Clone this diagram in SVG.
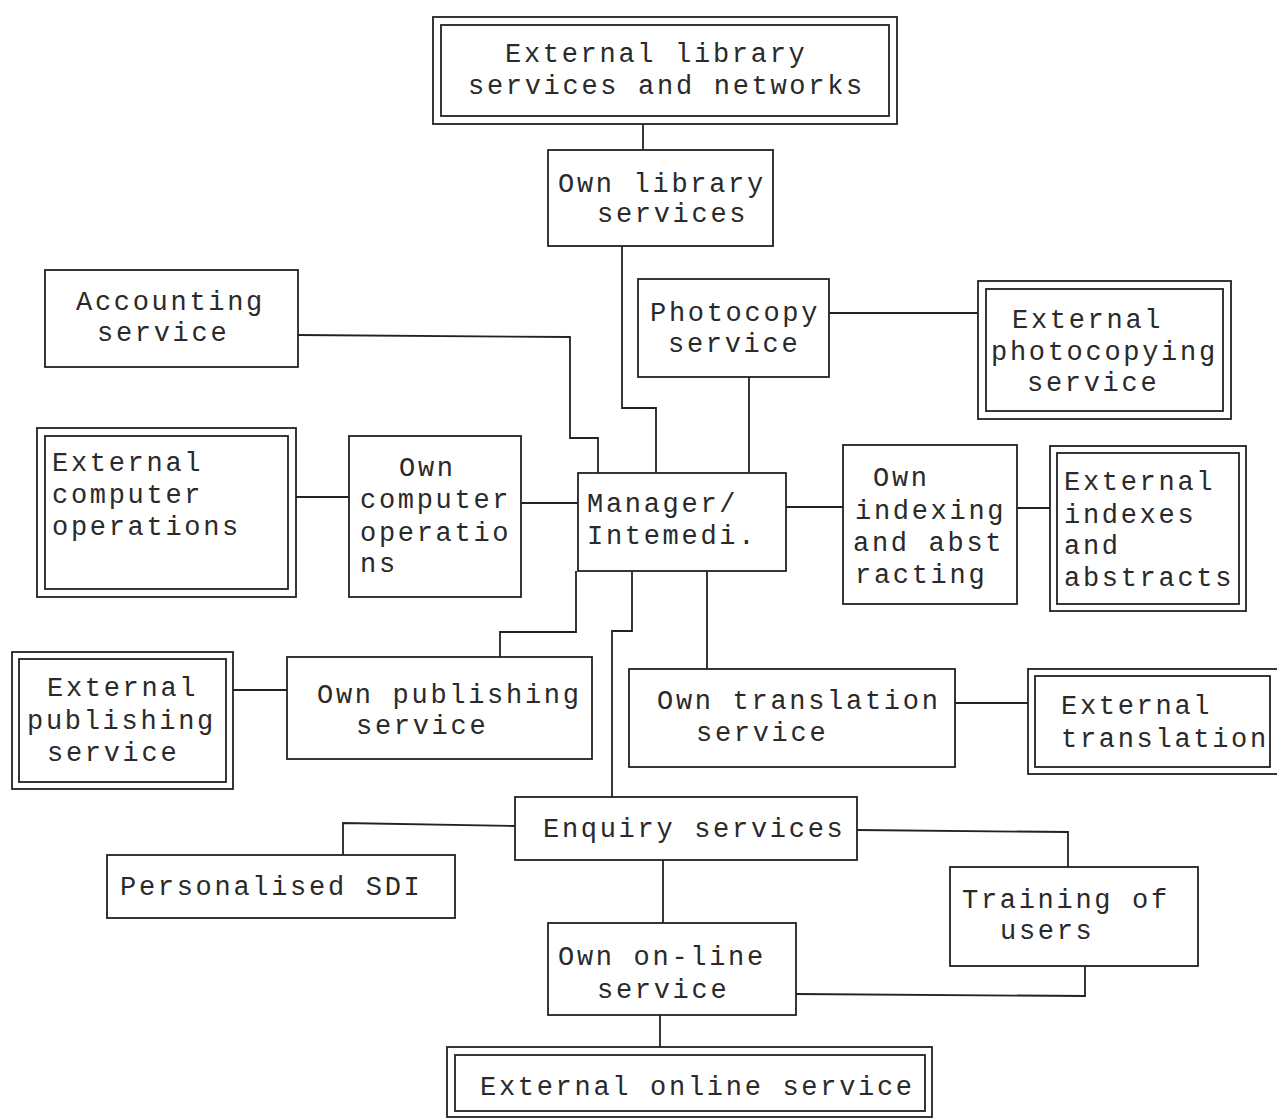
<svg xmlns="http://www.w3.org/2000/svg" width="1277" height="1120" viewBox="0 0 1277 1120">
<style>
.b{fill:#fff;stroke:#222;stroke-width:1.8}
.c{fill:none;stroke:#222;stroke-width:1.8}
text{font-family:"Liberation Mono","Courier New",monospace;font-size:27px;letter-spacing:2.7px;fill:#2a2a2a}
</style>
<rect width="1277" height="1120" fill="#fff"/>
<g id="connectors" class="c">
<path d="M643 124V150"/>
<path d="M622 246V408H656V473"/>
<path d="M749 377V473"/>
<path d="M829 313H978"/>
<path d="M298 335L570 337V438H598V473"/>
<path d="M296 497H349"/>
<path d="M521 503H578"/>
<path d="M786 507H843"/>
<path d="M1017 508H1050"/>
<path d="M576 571V632H500V657"/>
<path d="M632 571V631H612V797"/>
<path d="M707 571V669"/>
<path d="M233 690H287"/>
<path d="M955 703H1028"/>
<path d="M515 826L343 823V855"/>
<path d="M857 830L1068 832V867"/>
<path d="M663 860V923"/>
<path d="M796 994L1085 996V966"/>
<path d="M660 1015V1047"/>
</g>
<g id="ext-library"><rect class="b" x="433" y="17" width="464" height="107"/><rect class="b" x="441" y="25" width="448" height="91"/><text x="505" y="62">External library</text><text x="468" y="94">services and networks</text></g>
<g id="own-library"><rect class="b" x="548" y="150" width="225" height="96"/><text x="558" y="192">Own library</text><text x="597" y="222">services</text></g>
<g id="accounting"><rect class="b" x="45" y="270" width="253" height="97"/><text x="76" y="310">Accounting</text><text x="97" y="341">service</text></g>
<g id="photocopy"><rect class="b" x="638" y="279" width="191" height="98"/><text x="650" y="321">Photocopy</text><text x="668" y="352">service</text></g>
<g id="ext-photocopy"><rect class="b" x="978" y="281" width="253" height="138"/><rect class="b" x="986" y="289" width="237" height="122"/><text x="1012" y="328">External</text><text x="991" y="360">photocopying</text><text x="1027" y="391">service</text></g>
<g id="ext-computer"><rect class="b" x="37" y="428" width="259" height="169"/><rect class="b" x="45" y="436" width="243" height="153"/><text x="52" y="471">External</text><text x="52" y="503">computer</text><text x="52" y="535">operations</text></g>
<g id="own-computer"><rect class="b" x="349" y="436" width="172" height="161"/><text x="399" y="476">Own</text><text x="360" y="508">computer</text><text x="360" y="541">operatio</text><text x="360" y="572">ns</text></g>
<g id="manager"><rect class="b" x="578" y="473" width="208" height="98"/><text x="587" y="512">Manager/</text><text x="587" y="544">Intemedi.</text></g>
<g id="own-indexing"><rect class="b" x="843" y="445" width="174" height="159"/><text x="873" y="486">Own</text><text x="855" y="519">indexing</text><text x="853" y="551">and abst</text><text x="855" y="583">racting</text></g>
<g id="ext-indexes"><rect class="b" x="1050" y="446" width="196" height="165"/><rect class="b" x="1057" y="453" width="182" height="151"/><text x="1064" y="490">External</text><text x="1064" y="523">indexes</text><text x="1064" y="554">and</text><text x="1064" y="586">abstracts</text></g>
<g id="ext-publishing"><rect class="b" x="12" y="652" width="221" height="137"/><rect class="b" x="19" y="659" width="207" height="123"/><text x="47" y="696">External</text><text x="27" y="729">publishing</text><text x="47" y="761">service</text></g>
<g id="own-publishing"><rect class="b" x="287" y="657" width="305" height="102"/><text x="317" y="703">Own publishing</text><text x="356" y="734">service</text></g>
<g id="own-translation"><rect class="b" x="629" y="669" width="326" height="98"/><text x="657" y="709">Own translation</text><text x="696" y="741">service</text></g>
<g id="ext-translation"><rect class="b" x="1028" y="669" width="252" height="105"/><rect class="b" x="1035" y="676" width="235" height="91"/><text x="1061" y="714">External</text><text x="1061" y="747">translation</text></g>
<g id="enquiry"><rect class="b" x="515" y="797" width="342" height="63"/><text x="543" y="837">Enquiry services</text></g>
<g id="sdi"><rect class="b" x="107" y="855" width="348" height="63"/><text x="120" y="895">Personalised SDI</text></g>
<g id="training"><rect class="b" x="950" y="867" width="248" height="99"/><text x="962" y="908">Training of</text><text x="1000" y="939">users</text></g>
<g id="own-online"><rect class="b" x="548" y="923" width="248" height="92"/><text x="558" y="965">Own on-line</text><text x="597" y="998">service</text></g>
<g id="ext-online"><rect class="b" x="447" y="1047" width="485" height="70"/><rect class="b" x="455" y="1055" width="470" height="56"/><text x="480" y="1095">External online service</text></g>
</svg>
